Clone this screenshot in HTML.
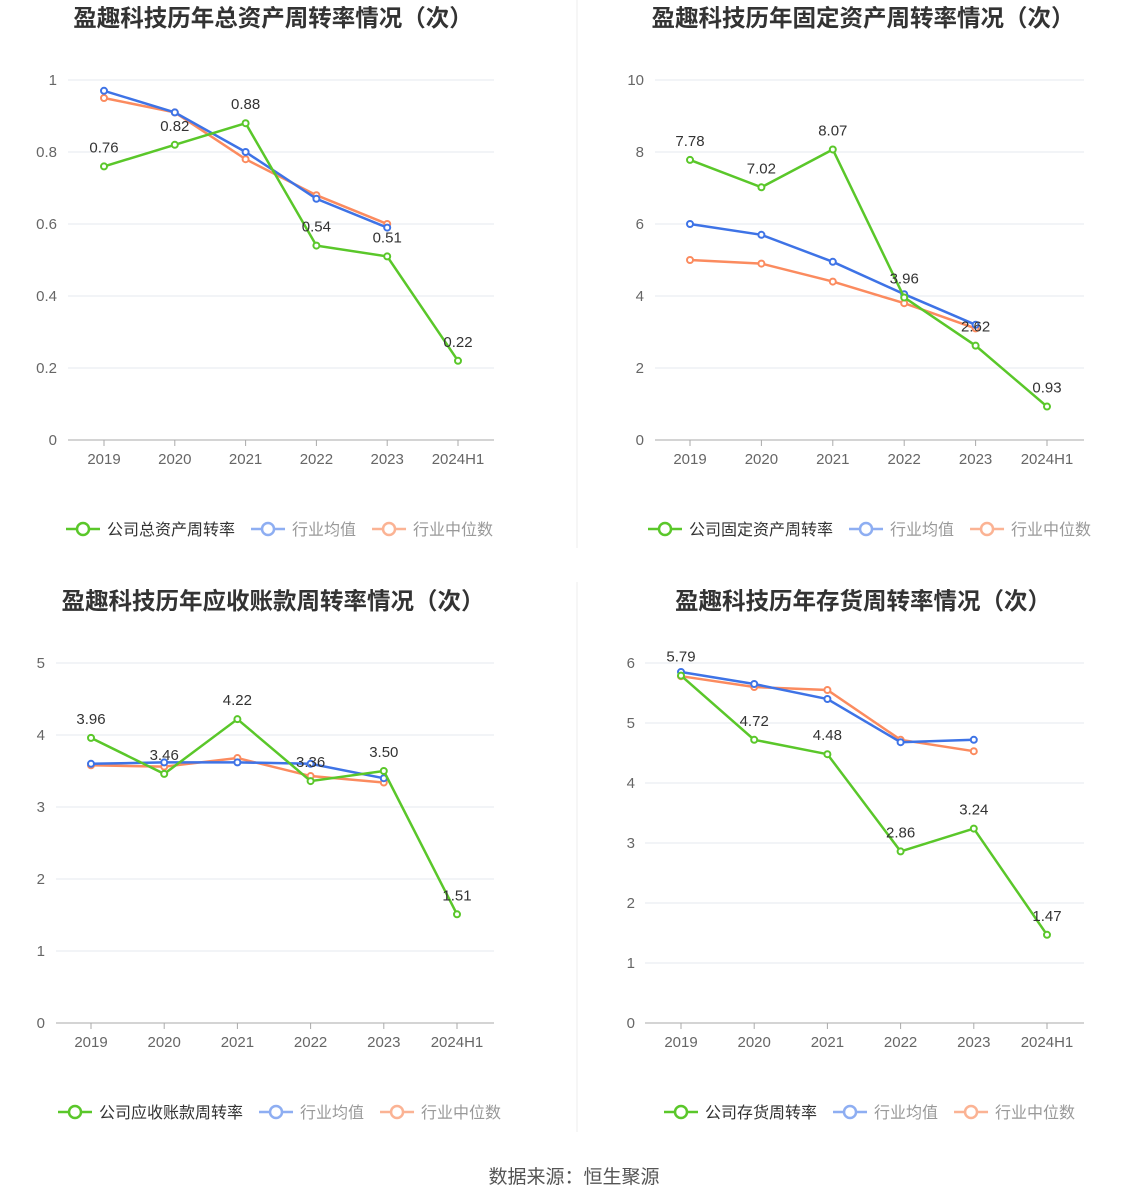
<!DOCTYPE html>
<html><head><meta charset="utf-8">
<style>
body{margin:0;background:#fff;font-family:"Liberation Sans","Noto Sans CJK SC",sans-serif;}
#wrap{position:relative;width:1148px;height:1202px;overflow:hidden;}
svg{position:absolute;left:0;top:0;}
</style></head>
<body><div id="wrap">
<svg id="s" width="1148" height="1202"></svg>
</div>
<script>
const categories=["2019","2020","2021","2022","2023","2024H1"];
const c1Company=[0.76,0.82,0.88,0.54,0.51,0.22];
const c1Avg=[0.97,0.91,0.80,0.67,0.59];
const c1Med=[0.95,0.91,0.78,0.68,0.60];
const c1Ticks=["0","0.2","0.4","0.6","0.8","1"];
const c2Company=[7.78,7.02,8.07,3.96,2.62,0.93];
const c2Avg=[6.0,5.7,4.95,4.05,3.2];
const c2Med=[5.0,4.9,4.4,3.8,3.1];
const c2Ticks=["0","2","4","6","8","10"];
const c3Company=[3.96,3.46,4.22,3.36,3.50,1.51];
const c3Avg=[3.60,3.62,3.62,3.60,3.40];
const c3Med=[3.58,3.56,3.68,3.43,3.34];
const c3Ticks=["0","1","2","3","4","5"];
const c4Company=[5.79,4.72,4.48,2.86,3.24,1.47];
const c4Avg=[5.85,5.65,5.40,4.68,4.72];
const c4Med=[5.78,5.60,5.55,4.72,4.53];
const c4Ticks=["0","1","2","3","4","5","6"];

const NS="http://www.w3.org/2000/svg";
const svg=document.getElementById('s');
function mk(tag,attrs,parent,name){const e=document.createElementNS(NS,tag);for(const k in attrs)e.setAttribute(k,attrs[k]);


(parent||svg).appendChild(e);return e;}
function txt(x,y,s,attrs,parent,name){const e=mk('text',Object.assign({x:x,y:y},attrs),parent,name);e.textContent=s;return e;}

function chart(o){
  const g=mk('g',{},svg,o.name);
  const max=+o.ticks[o.ticks.length-1];
  const ys=v=>o.y0-(v/max)*(o.y0-o.y1);
  const xs=i=>o.x0+i*o.step;
  txt(o.cx,o.ty,o.title,{'text-anchor':'middle','font-size':23.5,'font-weight':'bold',fill:'#333'},g,'chart-title');
  o.ticks.forEach((t,i)=>{const v=+t;const y=ys(v);
    mk('line',{x1:o.gl,x2:o.gr,y1:y,y2:y,stroke:i==0?'#aaa':'#e6e8ef','stroke-width':1},g,'grid-line');
    txt(o.lx,y+5,t,{'text-anchor':'end','font-size':15,fill:'#666'},g,'y-tick-label');});
  categories.forEach((c,i)=>{
    mk('line',{x1:xs(i),x2:xs(i),y1:o.y0,y2:o.y0+6,stroke:'#aaa'},g,'x-tick');
    txt(xs(i),o.y0+24,c,{'text-anchor':'middle','font-size':15,fill:'#666'},g,'x-tick-label');});
  function series(arr,col,name,labels){
    mk('polyline',{points:arr.map((v,i)=>xs(i)+','+ys(v)).join(' '),fill:'none',stroke:col,'stroke-width':2.5},g,name+'-line');
    arr.forEach((v,i)=>{mk('circle',{cx:xs(i),cy:ys(v),r:3,fill:'#fff',stroke:col,'stroke-width':2},g,name+'-point');
      if(labels)txt(xs(i),ys(v)-14,v.toFixed(2),{'text-anchor':'middle','font-size':15,fill:'#333'},g,name+'-value-label');});
  }
  series(o.med,'#fb8b5f','median');
  series(o.avg,'#3e73e6','average');
  series(o.comp,'#5ac72a','company',true);
  const leg=[[o.leg[0],'#5ac72a','#333'],['行业均值','#8eaef2','#999'],['行业中位数','#fbb394','#999']];
  let x=o.legx;
  leg.forEach((l,i)=>{
    const lg=mk('g',{},g,'legend-entry');
    mk('line',{x1:x,x2:x+34,y1:o.legy,y2:o.legy,stroke:l[1],'stroke-width':2.5},lg,'legend-line');
    mk('circle',{cx:x+17,cy:o.legy,r:6,fill:'#fff',stroke:l[1],'stroke-width':2.5},lg,'legend-marker');
    const t=txt(x+41,o.legy+6,l[0],{'font-size':16,fill:l[2]},lg,'legend-label');
    x+=41+t.getComputedTextLength()+16;
  });
}
chart({name:'total-asset-turnover-chart',title:'盈趣科技历年总资产周转率情况（次）',cx:273,ty:26,x0:104,step:70.8,y0:440,y1:80,gl:68,gr:494,lx:57,ticks:c1Ticks,comp:c1Company,avg:c1Avg,med:c1Med,leg:['公司总资产周转率'],legx:66,legy:529});
chart({name:'fixed-asset-turnover-chart',title:'盈趣科技历年固定资产周转率情况（次）',cx:863,ty:26,x0:690,step:71.4,y0:440,y1:80,gl:655,gr:1084,lx:644,ticks:c2Ticks,comp:c2Company,avg:c2Avg,med:c2Med,leg:['公司固定资产周转率'],legx:648,legy:529});
chart({name:'receivables-turnover-chart',title:'盈趣科技历年应收账款周转率情况（次）',cx:273,ty:609,x0:91,step:73.2,y0:1023,y1:663,gl:56,gr:494,lx:45,ticks:c3Ticks,comp:c3Company,avg:c3Avg,med:c3Med,leg:['公司应收账款周转率'],legx:58,legy:1112});
chart({name:'inventory-turnover-chart',title:'盈趣科技历年存货周转率情况（次）',cx:863,ty:609,x0:681,step:73.2,y0:1023,y1:663,gl:645,gr:1084,lx:635,ticks:c4Ticks,comp:c4Company,avg:c4Avg,med:c4Med,leg:['公司存货周转率'],legx:664,legy:1112});
mk('line',{x1:577,x2:577,y1:0,y2:548,stroke:'#eee'},svg,'divider-top');
mk('line',{x1:577,x2:577,y1:582,y2:1132,stroke:'#eee'},svg,'divider-bottom');
txt(574,1183,'数据来源：恒生聚源',{'text-anchor':'middle','font-size':19,fill:'#555'},svg,'source-note');
</script></body></html>
